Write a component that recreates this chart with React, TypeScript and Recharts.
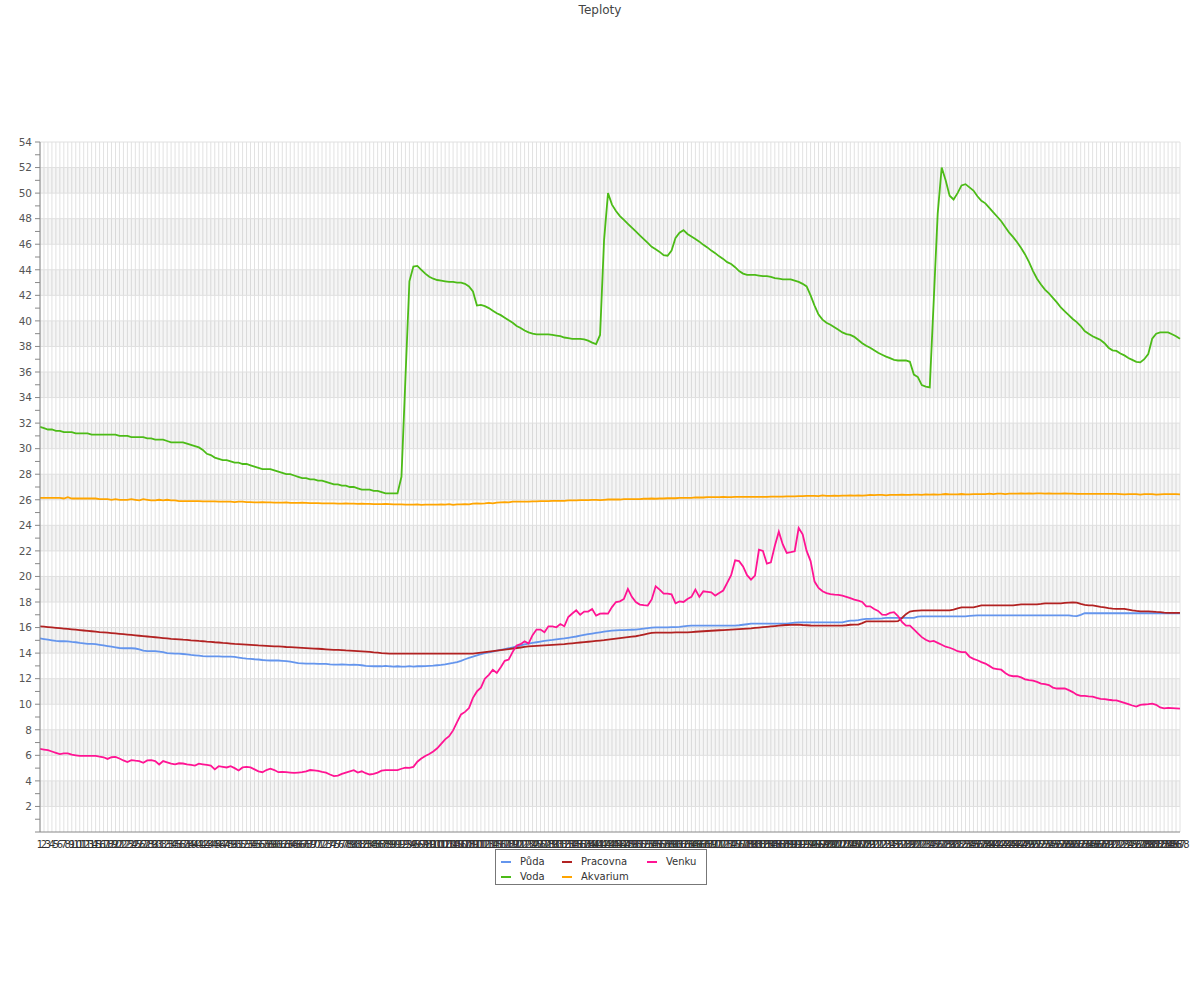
import {
  CartesianGrid, Line, LineChart, ReferenceArea, ReferenceLine, XAxis, YAxis,
} from "recharts";

// Readings every 5 minutes (288 per day).
const puda = [
  15.15, 15.1, 15.05, 15.0, 14.95, 14.93, 14.93, 14.92, 14.88, 14.85,
  14.8, 14.76, 14.72, 14.72, 14.7, 14.65, 14.6, 14.55, 14.5, 14.45,
  14.4, 14.38, 14.38, 14.38, 14.36, 14.3, 14.2, 14.15, 14.15, 14.15,
  14.12, 14.08, 14.0, 13.98, 13.96, 13.96, 13.93, 13.9, 13.86, 13.83,
  13.8, 13.77, 13.75, 13.75, 13.75, 13.74, 13.72, 13.72, 13.72, 13.7,
  13.65, 13.6, 13.57, 13.55, 13.52, 13.5, 13.46, 13.43, 13.42, 13.42,
  13.42, 13.4, 13.38, 13.33, 13.28, 13.22, 13.2, 13.18, 13.18, 13.18,
  13.15, 13.15, 13.15, 13.12, 13.1, 13.1, 13.12, 13.1, 13.08, 13.1,
  13.08, 13.05, 13.0, 12.98, 12.97, 12.97, 12.97, 13.0, 12.97, 12.95,
  12.97, 12.95, 12.95, 12.98, 12.95, 12.97, 12.97, 12.98, 13.0, 13.02,
  13.05, 13.08, 13.12, 13.18, 13.23, 13.3, 13.4, 13.52, 13.63, 13.72,
  13.82, 13.92, 14.0, 14.05, 14.12, 14.2, 14.26, 14.32, 14.38, 14.45,
  14.53, 14.6, 14.68, 14.75, 14.8, 14.85, 14.9, 14.95, 15.0, 15.03,
  15.07, 15.11, 15.15, 15.2, 15.25, 15.3, 15.36, 15.42, 15.48, 15.53,
  15.58, 15.63, 15.68, 15.72, 15.76, 15.78, 15.8, 15.8, 15.82, 15.83,
  15.84, 15.88, 15.92, 15.96, 16.0, 16.02, 16.02, 16.02, 16.02, 16.03,
  16.03, 16.05, 16.1, 16.13, 16.15, 16.15, 16.15, 16.15, 16.15, 16.15,
  16.15, 16.15, 16.15, 16.15, 16.15, 16.15, 16.18, 16.22, 16.26, 16.3,
  16.3, 16.3, 16.3, 16.3, 16.3, 16.3, 16.3, 16.3, 16.3, 16.35,
  16.38, 16.4, 16.4, 16.4, 16.4, 16.4, 16.4, 16.4, 16.4, 16.4,
  16.4, 16.4, 16.4, 16.48, 16.54, 16.54, 16.58, 16.64, 16.68, 16.68,
  16.7, 16.7, 16.72, 16.75, 16.75, 16.75, 16.75, 16.75, 16.75, 16.75,
  16.75, 16.85, 16.88, 16.88, 16.88, 16.88, 16.88, 16.88, 16.88, 16.88,
  16.88, 16.88, 16.88, 16.88, 16.92, 16.94, 16.96, 16.96, 16.96, 16.96,
  16.96, 16.96, 16.96, 16.96, 16.96, 16.96, 16.96, 16.96, 16.96, 16.96,
  16.96, 16.96, 16.96, 16.96, 16.96, 16.96, 16.96, 16.96, 16.96, 16.96,
  16.92, 16.9, 17.0, 17.12, 17.12, 17.12, 17.12, 17.12, 17.12, 17.12,
  17.12, 17.12, 17.12, 17.12, 17.12, 17.12, 17.12, 17.12, 17.12, 17.12,
  17.12, 17.12, 17.12, 17.12, 17.12, 17.12, 17.12, 17.12,
];

const voda = [
  31.7, 31.6, 31.5, 31.5, 31.4, 31.4, 31.3, 31.3, 31.3, 31.2,
  31.2, 31.2, 31.2, 31.1, 31.1, 31.1, 31.1, 31.1, 31.1, 31.1,
  31.0, 31.0, 31.0, 30.9, 30.9, 30.9, 30.9, 30.8, 30.8, 30.7,
  30.7, 30.7, 30.6, 30.5, 30.5, 30.5, 30.5, 30.4, 30.3, 30.2,
  30.1, 29.9, 29.6, 29.5, 29.3, 29.2, 29.1, 29.1, 29.0, 28.9,
  28.9, 28.8, 28.8, 28.7, 28.6, 28.5, 28.4, 28.4, 28.4, 28.3,
  28.2, 28.1, 28.0, 28.0, 27.9, 27.8, 27.7, 27.7, 27.6, 27.6,
  27.5, 27.5, 27.4, 27.3, 27.2, 27.2, 27.1, 27.1, 27.0, 27.0,
  26.9, 26.8, 26.8, 26.8, 26.7, 26.7, 26.6, 26.5, 26.5, 26.5,
  26.5, 27.8, 35.5, 43.1, 44.25, 44.3, 44.0, 43.7, 43.45, 43.3,
  43.2, 43.15, 43.1, 43.05, 43.05, 43.0, 43.0, 42.9, 42.7, 42.3,
  41.2, 41.25, 41.15, 41.0, 40.8, 40.6, 40.45, 40.25, 40.05, 39.85,
  39.6, 39.45, 39.25, 39.1, 39.0, 38.95, 38.95, 38.95, 38.95, 38.9,
  38.85, 38.8, 38.7, 38.65, 38.6, 38.6, 38.6, 38.55, 38.45, 38.3,
  38.18, 38.9, 46.3, 50.0, 49.1, 48.6, 48.2, 47.9, 47.6, 47.3,
  47.0, 46.7, 46.4, 46.1, 45.8, 45.6, 45.4, 45.15, 45.1, 45.5,
  46.5, 46.9, 47.1, 46.8, 46.6, 46.4, 46.2, 45.95, 45.75, 45.5,
  45.3, 45.05, 44.85, 44.6, 44.45, 44.2, 43.9, 43.7, 43.6, 43.6,
  43.6, 43.55, 43.5, 43.5, 43.45, 43.35, 43.3, 43.25, 43.25, 43.25,
  43.15, 43.05, 42.9, 42.7, 42.0, 41.2, 40.5, 40.1, 39.85, 39.7,
  39.5, 39.3, 39.1, 38.96, 38.9, 38.75, 38.5, 38.25, 38.05, 37.9,
  37.7, 37.5, 37.35, 37.2, 37.08, 36.95, 36.9, 36.9, 36.9, 36.8,
  35.8, 35.6, 34.97, 34.85, 34.8, 41.6, 48.4, 52.0, 51.0, 49.8,
  49.5, 50.0, 50.6, 50.7, 50.45, 50.2, 49.75, 49.4, 49.2, 48.85,
  48.5, 48.15, 47.8, 47.35, 46.9, 46.55, 46.15, 45.7, 45.2, 44.6,
  43.9, 43.3, 42.85, 42.45, 42.15, 41.8, 41.45, 41.05, 40.75, 40.45,
  40.15, 39.9, 39.6, 39.2, 39.0, 38.8, 38.65, 38.5, 38.25, 37.9,
  37.7, 37.65, 37.45, 37.3, 37.1, 36.95, 36.8, 36.75, 37.0, 37.4,
  38.6, 39.0, 39.1, 39.1, 39.1, 38.95, 38.8, 38.6,
];

const pracovna = [
  16.1, 16.07, 16.04, 16.01, 15.98, 15.95, 15.92, 15.89, 15.86, 15.83,
  15.8, 15.77, 15.74, 15.71, 15.68, 15.65, 15.63, 15.6, 15.57, 15.54,
  15.51, 15.48, 15.45, 15.42, 15.39, 15.36, 15.33, 15.3, 15.27, 15.24,
  15.21, 15.18, 15.15, 15.12, 15.1, 15.08, 15.05, 15.03, 15.0, 14.98,
  14.95, 14.93, 14.9, 14.88, 14.85, 14.83, 14.8, 14.78, 14.75, 14.72,
  14.7, 14.68, 14.66, 14.64, 14.62, 14.6, 14.59, 14.57, 14.55, 14.53,
  14.52, 14.5, 14.48, 14.47, 14.45, 14.43, 14.41, 14.39, 14.37, 14.35,
  14.34, 14.32, 14.3, 14.28, 14.26, 14.25, 14.23, 14.21, 14.2, 14.18,
  14.16, 14.14, 14.12, 14.1, 14.06, 14.03, 14.0, 13.98, 13.96, 13.96,
  13.96, 13.96, 13.96, 13.96, 13.96, 13.96, 13.96, 13.96, 13.96, 13.96,
  13.96, 13.96, 13.96, 13.96, 13.96, 13.96, 13.96, 13.96, 13.96, 13.96,
  14.0, 14.04, 14.08, 14.12, 14.16, 14.2, 14.24, 14.28, 14.32, 14.36,
  14.4, 14.44, 14.48, 14.52, 14.55, 14.57, 14.59, 14.61, 14.63, 14.65,
  14.67, 14.69, 14.71, 14.74, 14.77, 14.8, 14.83, 14.86, 14.89, 14.92,
  14.95, 14.98, 15.01, 15.05, 15.09, 15.13, 15.17, 15.21, 15.25, 15.29,
  15.32, 15.38, 15.45, 15.52, 15.58, 15.6, 15.6, 15.6, 15.61, 15.61,
  15.62, 15.62, 15.63, 15.63, 15.65, 15.67, 15.69, 15.71, 15.73, 15.75,
  15.77, 15.79, 15.8, 15.82, 15.84, 15.86, 15.88, 15.9, 15.92, 15.94,
  15.97, 16.0, 16.03, 16.06, 16.09, 16.12, 16.15, 16.18, 16.2, 16.21,
  16.22, 16.23, 16.2, 16.18, 16.16, 16.15, 16.15, 16.15, 16.15, 16.15,
  16.15, 16.15, 16.15, 16.18, 16.22, 16.23, 16.23, 16.35, 16.48, 16.49,
  16.49, 16.49, 16.49, 16.49, 16.49, 16.49, 16.5, 16.75, 17.05, 17.25,
  17.3, 17.33, 17.35, 17.35, 17.35, 17.35, 17.35, 17.35, 17.35, 17.35,
  17.4, 17.5, 17.58, 17.58, 17.58, 17.58, 17.65, 17.74, 17.74, 17.74,
  17.74, 17.74, 17.74, 17.74, 17.74, 17.74, 17.78, 17.82, 17.82, 17.82,
  17.82, 17.82, 17.85, 17.9, 17.9, 17.9, 17.9, 17.9, 17.93, 17.95,
  17.97, 17.95, 17.85, 17.78, 17.74, 17.74, 17.68, 17.62, 17.58, 17.52,
  17.48, 17.46, 17.46, 17.46, 17.4, 17.34, 17.3, 17.27, 17.27, 17.27,
  17.25, 17.22, 17.2, 17.17, 17.15, 17.15, 17.15, 17.15,
];

const akvarium = [
  26.15, 26.15, 26.15, 26.15, 26.15, 26.15, 26.1, 26.2, 26.1, 26.1,
  26.1, 26.1, 26.1, 26.1, 26.1, 26.05, 26.05, 26.05, 26.0, 26.05,
  26.0, 26.0, 26.0, 26.05, 26.0, 25.95, 26.05, 26.0, 25.95, 25.95,
  26.0, 25.95, 26.0, 25.95, 25.95, 25.9, 25.9, 25.9, 25.9, 25.9,
  25.9, 25.88, 25.88, 25.88, 25.88, 25.85, 25.85, 25.85, 25.85, 25.82,
  25.85, 25.85, 25.82, 25.82, 25.8, 25.8, 25.82, 25.8, 25.8, 25.78,
  25.78, 25.78, 25.8, 25.76, 25.76, 25.76, 25.78, 25.76, 25.74, 25.74,
  25.74, 25.72, 25.72, 25.72, 25.72, 25.7, 25.7, 25.72, 25.7, 25.7,
  25.68, 25.7, 25.68, 25.68, 25.66, 25.66, 25.66, 25.68, 25.66, 25.64,
  25.64, 25.64, 25.62, 25.62, 25.62, 25.64, 25.6, 25.62, 25.62, 25.62,
  25.62, 25.64, 25.62, 25.66, 25.6, 25.64, 25.64, 25.66, 25.64, 25.7,
  25.72, 25.7, 25.72, 25.75, 25.72, 25.78, 25.8, 25.82, 25.8, 25.85,
  25.85, 25.85, 25.85, 25.85, 25.88, 25.88, 25.9, 25.9, 25.9, 25.92,
  25.92, 25.92, 25.92, 25.95, 25.95, 25.95, 25.97, 25.97, 25.97, 26.0,
  26.0, 25.98, 26.0, 26.02, 26.02, 26.02, 26.02, 26.05, 26.05, 26.05,
  26.05, 26.05, 26.08, 26.08, 26.1, 26.08, 26.1, 26.1, 26.12, 26.12,
  26.12, 26.15, 26.15, 26.15, 26.15, 26.18, 26.18, 26.18, 26.2, 26.2,
  26.2, 26.2, 26.22, 26.2, 26.2, 26.22, 26.22, 26.22, 26.22, 26.22,
  26.22, 26.22, 26.22, 26.22, 26.24, 26.24, 26.24, 26.24, 26.26, 26.26,
  26.26, 26.28, 26.28, 26.3, 26.3, 26.3, 26.28, 26.35, 26.3, 26.3,
  26.32, 26.3, 26.32, 26.32, 26.35, 26.32, 26.35, 26.32, 26.35, 26.38,
  26.36, 26.38, 26.38, 26.35, 26.38, 26.38, 26.38, 26.4, 26.38, 26.38,
  26.4, 26.4, 26.38, 26.42, 26.4, 26.42, 26.4, 26.42, 26.45, 26.42,
  26.42, 26.42, 26.45, 26.42, 26.42, 26.45, 26.45, 26.45, 26.45, 26.48,
  26.45, 26.48, 26.48, 26.45, 26.48, 26.48, 26.48, 26.5, 26.48, 26.5,
  26.48, 26.5, 26.5, 26.48, 26.5, 26.48, 26.48, 26.48, 26.5, 26.48,
  26.48, 26.46, 26.46, 26.46, 26.46, 26.46, 26.46, 26.46, 26.46, 26.46,
  26.46, 26.46, 26.44, 26.42, 26.44, 26.44, 26.44, 26.4, 26.44, 26.44,
  26.44, 26.4, 26.42, 26.44, 26.44, 26.44, 26.44, 26.42,
];

const venku = [
  6.5, 6.45, 6.4, 6.3, 6.2, 6.1, 6.15, 6.15, 6.05, 6.0,
  5.95, 5.95, 5.95, 5.95, 5.95, 5.9, 5.85, 5.72, 5.85, 5.88,
  5.75, 5.6, 5.47, 5.62, 5.58, 5.55, 5.42, 5.6, 5.62, 5.55,
  5.28, 5.55, 5.45, 5.35, 5.3, 5.38, 5.36, 5.3, 5.25, 5.2,
  5.35, 5.3, 5.25, 5.2, 4.9, 5.15, 5.1, 5.05, 5.15, 5.0,
  4.82, 5.05, 5.1, 5.05, 4.9, 4.75, 4.68, 4.85, 4.95, 4.85,
  4.68, 4.7, 4.68, 4.65, 4.62, 4.65, 4.68, 4.75, 4.85, 4.82,
  4.78, 4.7, 4.65, 4.5, 4.37, 4.42, 4.55, 4.65, 4.75, 4.84,
  4.65, 4.75, 4.6, 4.5, 4.55, 4.65, 4.8, 4.84, 4.84, 4.84,
  4.85, 4.95, 5.03, 5.02, 5.1, 5.5, 5.75, 5.95, 6.1, 6.3,
  6.55, 6.9, 7.25, 7.5, 7.95, 8.6, 9.2, 9.4, 9.7, 10.5,
  11.0, 11.3, 12.0, 12.3, 12.7, 12.45, 12.9, 13.4, 13.5, 14.1,
  14.6, 14.7, 14.93, 14.75, 15.4, 15.84, 15.84, 15.63, 16.1, 16.1,
  16.02, 16.28, 16.1, 16.83, 17.1, 17.35, 17.0, 17.25, 17.25, 17.45,
  16.93, 17.09, 17.1, 17.09, 17.6, 18.0, 18.05, 18.24, 19.02, 18.4,
  18.0, 17.8, 17.75, 17.72, 18.2, 19.23, 18.97, 18.66, 18.66, 18.6,
  17.9, 18.05, 18.0, 18.24, 18.4, 18.97, 18.4, 18.84, 18.8, 18.75,
  18.5, 18.7, 18.9, 19.5, 20.1, 21.26, 21.2, 20.79, 20.1, 19.75,
  20.06, 22.1, 22.0, 21.0, 21.1, 22.4, 23.5, 22.5, 21.84, 21.9,
  21.97, 23.79, 23.3, 22.0, 21.2, 19.6, 19.1, 18.84, 18.7, 18.62,
  18.58, 18.55, 18.5, 18.4, 18.3, 18.19, 18.1, 18.0, 17.66, 17.66,
  17.45, 17.3, 17.01, 17.0, 17.15, 17.2, 16.9, 16.45, 16.15, 16.15,
  15.85, 15.55, 15.25, 15.05, 14.9, 14.95, 14.8, 14.65, 14.5, 14.42,
  14.3, 14.15, 14.07, 14.07, 13.72, 13.55, 13.44, 13.3, 13.18, 13.0,
  12.8, 12.75, 12.7, 12.45, 12.25, 12.19, 12.19, 12.1, 11.95, 11.88,
  11.85, 11.75, 11.62, 11.58, 11.5, 11.3, 11.23, 11.23, 11.23, 11.1,
  10.95, 10.75, 10.65, 10.65, 10.62, 10.6, 10.5, 10.42, 10.4, 10.35,
  10.31, 10.3, 10.2, 10.1, 10.0, 9.9, 9.82, 9.95, 9.98, 10.0,
  10.05, 9.95, 9.75, 9.68, 9.72, 9.7, 9.68, 9.66,
];

// category labels are just the sample numbers 1..288
const categories = puda.map((_, i) => String(i + 1));

const yTicks = [
  0, 1, 2, 3, 4, 5, 6, 7, 8, 9, 10, 11, 12, 13, 14, 15, 16, 17, 18, 19,
  20, 21, 22, 23, 24, 25, 26, 27, 28, 29, 30, 31, 32, 33, 34, 35, 36, 37, 38, 39,
  40, 41, 42, 43, 44, 45, 46, 47, 48, 49, 50, 51, 52, 53, 54,
];
const gridValues = [2, 4, 6, 8, 10, 12, 14, 16, 18, 20, 22, 24, 26, 28, 30, 32, 34, 36, 38, 40, 42, 44, 46, 48, 50, 52, 54];
const bandStarts = [2, 6, 10, 14, 18, 22, 26, 30, 34, 38, 42, 46, 50];

// legend reads column by column: Půda/Voda, Pracovna/Akvarium, Venku
const series = [
  { key: "puda", name: "Půda", color: "#6495ed", values: puda },
  { key: "voda", name: "Voda", color: "#4cbb17", values: voda },
  { key: "pracovna", name: "Pracovna", color: "#b22222", values: pracovna },
  { key: "akvarium", name: "Akvarium", color: "#ffa500", values: akvarium },
  { key: "venku", name: "Venku", color: "#ff1493", values: venku },
];

const data = categories.map((label, i) => {
  const row: Record<string, string | number> = { label };
  for (const s of series) row[s.key] = s.values[i];
  return row;
});

const FONT = "'DejaVu Sans', sans-serif";

function LegendBox() {
  return (
    <div
      style={{
        position: "absolute", left: 495, top: 849, width: 205, height: 30,
        border: "1px solid #777", background: "#fff", boxSizing: "content-box",
        display: "grid", gridTemplateColumns: "61px 85px auto", gridTemplateRows: "15px 15px",
        gridAutoFlow: "column", padding: "4px 0 0 5px", fontFamily: FONT, fontSize: 10, color: "#333",
      }}
    >
      {series.map((s) => (
        <div key={s.key} style={{ display: "flex", alignItems: "center", whiteSpace: "nowrap" }}>
          <span style={{ display: "inline-block", width: 10, height: 2, background: s.color, marginRight: 9 }} />
          {s.name}
        </div>
      ))}
    </div>
  );
}

export default function App() {
  return (
    <div style={{ position: "absolute", left: 0, top: 0, width: 1200, height: 1000, background: "#fff" }}>
      <div
        style={{
          position: "absolute", left: 0, top: 3, width: 1200, textAlign: "center",
          fontFamily: FONT, fontSize: 12, color: "#444",
        }}
      >
        Teploty
      </div>
      <LineChart width={1200} height={1000} data={data} margin={{ top: 142, right: 20, bottom: 138, left: 0 }}>
        {bandStarts.map((v) => (
          <ReferenceArea key={`b${v}`} y1={v} y2={v + 2} fill="#000" fillOpacity={0.04} stroke="none" />
        ))}
        <CartesianGrid horizontal={false} stroke="#e2e2e2" />
        {gridValues.map((v) => (
          <ReferenceLine key={`g${v}`} y={v} stroke="#e0e0e0" />
        ))}
        <XAxis
          dataKey="label"
          interval={0}
          height={30}
          tickLine={false}
          tickMargin={3}
          axisLine={{ stroke: "#888" }}
          tick={{ fontSize: 10, fill: "#333", fontFamily: FONT }}
        />
        <YAxis
          type="number"
          domain={[0, 54]}
          ticks={yTicks}
          interval={0}
          width={40}
          tickSize={5}
          tickMargin={3}
          axisLine={{ stroke: "#888" }}
          tickLine={{ stroke: "#888" }}
          tick={{ fontSize: 10.5, fill: "#555", fontFamily: FONT }}
          tickFormatter={(v: number) => (v !== 0 && v % 2 === 0 ? String(v) : "")}
        />
        {series.map((s) => (
          <Line
            key={s.key}
            type="linear"
            dataKey={s.key}
            name={s.name}
            stroke={s.color}
            strokeWidth={1.8}
            dot={false}
            isAnimationActive={false}
          />
        ))}
      </LineChart>
      <LegendBox />
    </div>
  );
}
